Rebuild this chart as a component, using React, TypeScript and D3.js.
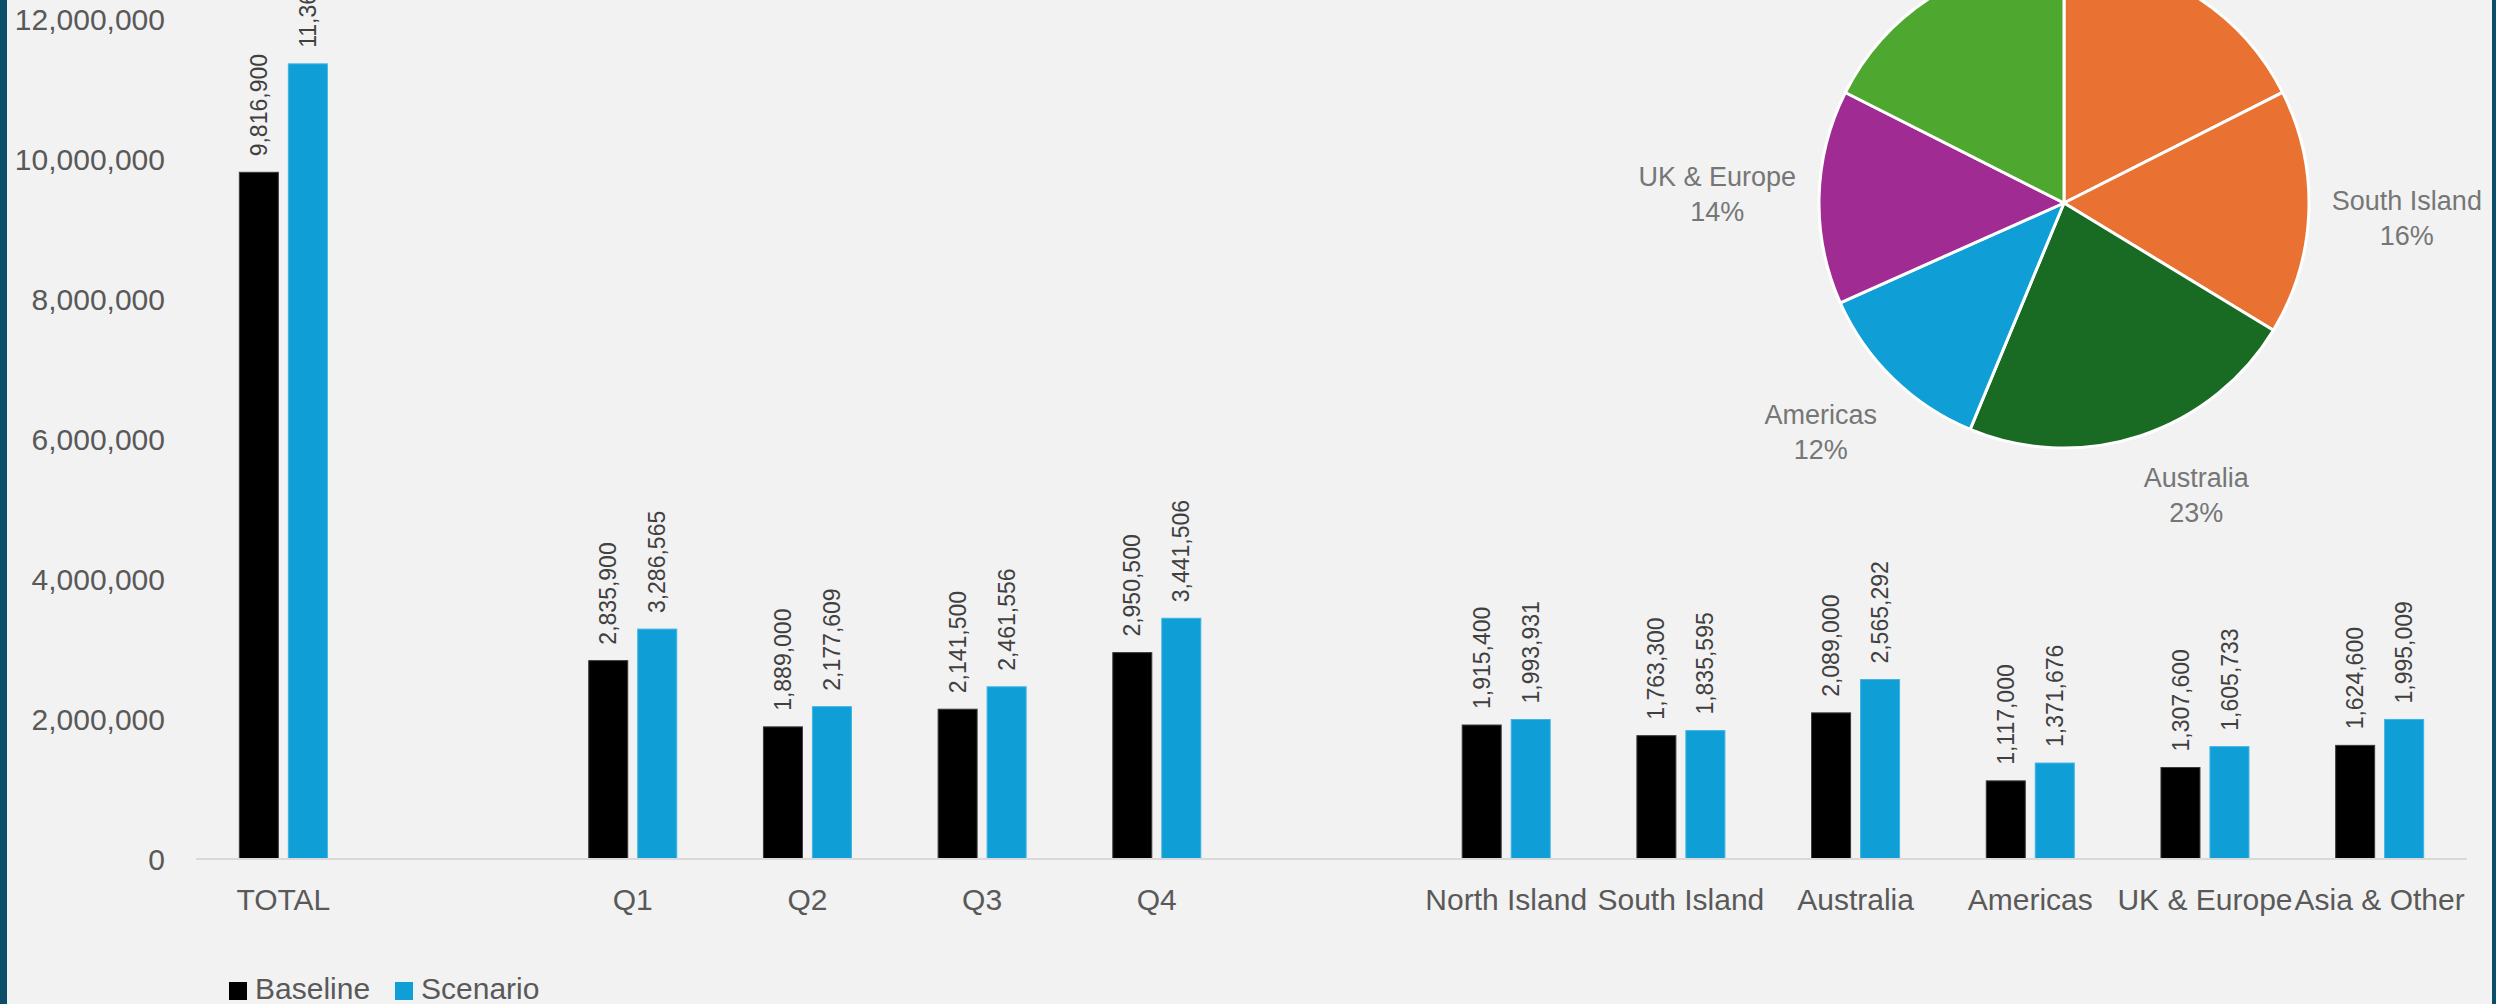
import React from "react";
import * as d3 from "d3";

// ---- Data ----
const categories = ["TOTAL", "", "Q1", "Q2", "Q3", "Q4", "", "North Island", "South Island", "Australia", "Americas", "UK & Europe", "Asia & Other"];
const baselineValues: (number | null)[] = [9816900, null, 2835900, 1889000, 2141500, 2950500, null, 1915400, 1763300, 2089000, 1117000, 1307600, 1624600];
const scenarioValues: (number | null)[] = [11367236, null, 3286565, 2177609, 2461556, 3441506, null, 1993931, 1835595, 2565292, 1371676, 1605733, 1995009];
const seriesNames = ["Baseline", "Scenario"];
const seriesColors = ["#000000", "#0F9ED5"];
const yTicks = [0, 2000000, 4000000, 6000000, 8000000, 10000000, 12000000];

const pieLabels = ["North Island", "South Island", "Australia", "Americas", "UK & Europe", "Asia & Other"];
const pieValues = [1993931, 1835595, 2565292, 1371676, 1605733, 1995009];
const pieColors = ["#E97132", "#E97132", "#196B24", "#0F9ED5", "#A02B93", "#4EA72E"];

// ---- Layout ----
const W = 2496;
const H = 1004;
const FONT = "'Liberation Sans', Arial, sans-serif";

function measure(text: string, size: number): number {
  if (typeof document === "undefined") return text.length * size * 0.55;
  const c = document.createElement("canvas");
  const ctx = c.getContext("2d");
  if (!ctx) return text.length * size * 0.55;
  ctx.font = `${size}px ${FONT}`;
  return ctx.measureText(text).width;
}

export default function App() {
  const x0 = d3.scaleBand<number>().domain(d3.range(categories.length)).range([196, 2467]).paddingInner(0).paddingOuter(0);
  const groupW = 88;
  const x1 = d3.scaleBand<number>().domain([0, 1]).range([0, groupW]).paddingInner(0.204).paddingOuter(0);
  const y = d3.scaleLinear().domain([0, 12000000]).range([859, 19.6]);
  const fmt = d3.format(",");
  const pct = d3.format(".0%");

  const cx = 2064, cy = 203, r = 245;
  const pie = d3.pie<number>().sort(null).value((d) => d).startAngle(0).endAngle(2 * Math.PI);
  const arcs = pie(pieValues);
  const arcGen = d3.arc<d3.PieArcDatum<number>>().innerRadius(0).outerRadius(r);
  const total = d3.sum(pieValues);

  const series = [baselineValues, scenarioValues];

  return (
    <svg width={W} height={H} style={{ position: "absolute", left: 0, top: 0, display: "block" }} fontFamily={FONT}>
      <rect x={0} y={0} width={W} height={H} fill="#F2F2F2" />

      {/* y tick labels */}
      {yTicks.map((t) => (
        <text key={t} x={165} y={y(t)} dy="0.35em" textAnchor="end" fontSize={30} fill="#595959">
          {fmt(t)}
        </text>
      ))}

      {/* bars */}
      {categories.map((c, i) => (
        <g key={i} transform={`translate(${(x0(i) as number) + (x0.bandwidth() - groupW) / 2},0)`}>
          {series.map((s, si) => {
            const v = s[i];
            if (v == null) return null;
            const bx = x1(si) as number;
            const bw = x1.bandwidth();
            return (
              <g key={si}>
                <rect x={bx} y={y(v)} width={bw} height={y(0) - y(v)} fill={seriesColors[si]} stroke={si === 0 ? "#3a3a3a" : "#3DB3E6"} strokeWidth={1} />
                <text
                  transform={`translate(${bx + bw / 2},${y(v) - 16}) rotate(-90)`}
                  dy="0.35em"
                  fontSize={23}
                  fill="#404040"
                  textAnchor="start"
                >
                  {fmt(v)}
                </text>
              </g>
            );
          })}
        </g>
      ))}

      {/* x axis line */}
      <line x1={196} x2={2467} y1={y(0)} y2={y(0)} stroke="#D9D9D9" strokeWidth={2} />

      {/* category labels */}
      {categories.map((c, i) =>
        c ? (
          <text key={i} x={(x0(i) as number) + x0.bandwidth() / 2} y={910} textAnchor="middle" fontSize={30} fill="#595959">
            {c}
          </text>
        ) : null
      )}

      {/* pie */}
      <g transform={`translate(${cx},${cy})`}>
        {arcs.map((a, i) => (
          <path key={i} d={arcGen(a) as string} fill={pieColors[i]} stroke="#FFFFFF" strokeWidth={3} strokeLinejoin="round" />
        ))}
      </g>
      {arcs.map((a, i) => {
        const th = (a.startAngle + a.endAngle) / 2;
        const s = Math.sin(th);
        const c = -Math.cos(th);
        const g = 23;
        const px = cx + (r + g) * s;
        const py = cy + (r + g) * c;
        const line2 = pct(a.value / total);
        const w = Math.max(measure(pieLabels[i], 27), measure(line2, 27));
        const h = 74;
        const ox = Math.sign(s) * (w / 2) * Math.min(1, Math.abs(s) * 3);
        const oy = Math.sign(c) * (h / 2) * Math.min(1, Math.abs(c) * 3);
        const lx = px + ox;
        const ly = py + oy;
        return (
          <text key={i} x={lx} textAnchor="middle" fontSize={27} fill="#767676">
            <tspan x={lx} y={ly - 8}>{pieLabels[i]}</tspan>
            <tspan x={lx} y={ly + 27}>{line2}</tspan>
          </text>
        );
      })}

      {/* legend */}
      {seriesNames.map((n, i) => {
        const lx = i === 0 ? 229 : 395;
        return (
          <g key={n}>
            <rect x={lx} y={982} width={18} height={18} fill={seriesColors[i]} />
            <text x={lx + 26} y={999} fontSize={30} fill="#595959">{n}</text>
          </g>
        );
      })}

      {/* side borders */}
      <rect x={0} y={0} width={7} height={H} fill="#0B4E69" />
      <rect x={2492} y={0} width={4} height={H} fill="#0B4E69" />
    </svg>
  );
}
